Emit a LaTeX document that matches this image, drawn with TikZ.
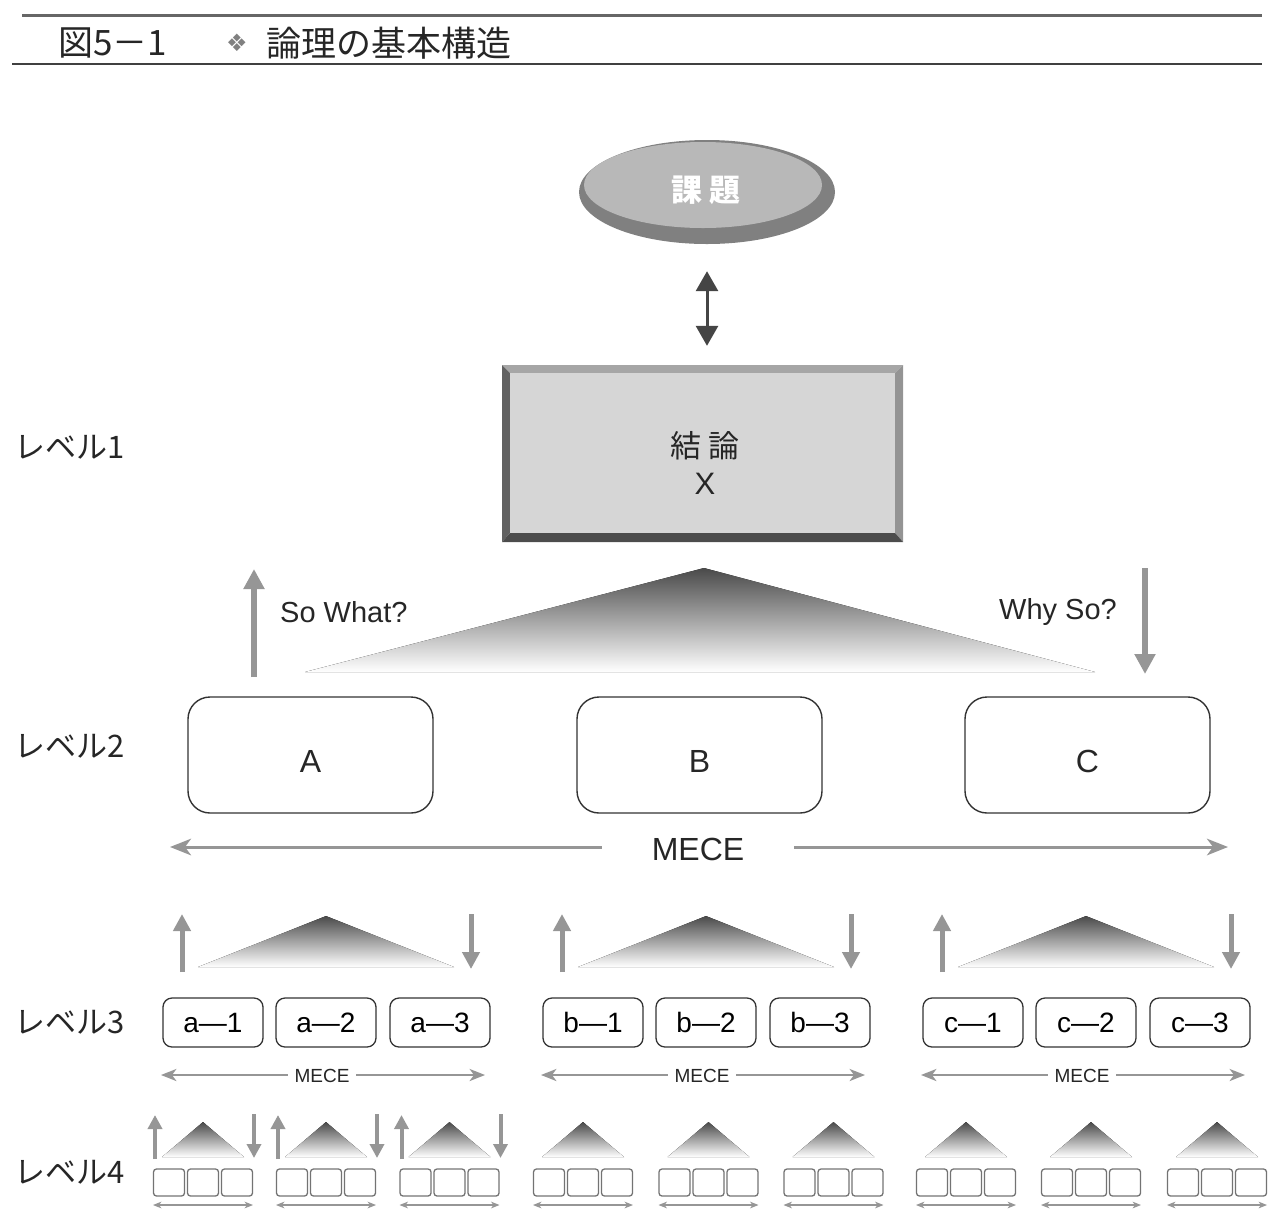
\documentclass[tikz,border=0pt]{standalone}
\usepackage{fontspec}
\setmainfont{Liberation Sans}
\newfontfamily\jp{Noto Sans CJK JP}
\newfontfamily\dvs{DejaVu Sans}
\usetikzlibrary{arrows.meta,shapes.geometric}
\definecolor{agray}{HTML}{969696}
\definecolor{tdark}{HTML}{454545}
\definecolor{tri}{HTML}{4a4a4a}
\newcommand\fsz[1]{\fontsize{#1}{#1}\selectfont}
\begin{document}
\begin{tikzpicture}[x=1pt,y=-1pt,
  lvl/.style={anchor=west,font=\jp\fsz{31},text=black!85,inner sep=0},
  bigbox/.style={draw=black!80,line width=1.4pt,rounded corners=22pt,minimum width=245pt,minimum height=116pt,inner sep=0,
     label={[font=\fsz{32},text=black!85,yshift=-6pt]center:#1}},
  midbox/.style={draw=black!80,line width=1.3pt,rounded corners=9pt,minimum width=100pt,minimum height=49pt,inner sep=0,font=\fsz{28}},
  tinybox/.style={draw=black!55,line width=1.3pt,rounded corners=3pt,minimum width=31pt,minimum height=27pt,inner sep=0},
  arrowL/.style={draw=agray,line width=6pt,-{Triangle[width=20pt,length=20pt]}},
  arrowM/.style={draw=agray,line width=5pt,-{Triangle[width=17pt,length=17pt]}},
  arrowS/.style={draw=agray,line width=4pt,-{Triangle[width=14pt,length=14pt]}},
  mece/.style={draw=agray,line width=#1,{Stealth[width=5.5*#1,length=7*#1,inset=2*#1]}-{Stealth[width=5.5*#1,length=7*#1,inset=2*#1]}},
  shade/.style={top color=tri,bottom color=white,draw=none}
]
\useasboundingbox (0,0) rectangle (1279,1227);

% header
\draw[line width=3pt,black!60] (22,15) -- (1262,15);
\draw[line width=1.5pt,black!75] (12,64) -- (1262,64);
\node[anchor=west,font=\jp\fsz{35},inner sep=0,text=black!85] (fig) at (58,43) {図5－1};
\node[font=\dvs\fsz{24},text=black!50,inner sep=0] (orn) at (237,43) {❖};
\node[anchor=west,font=\jp\fsz{35},inner sep=0,text=black!85] (ttl) at (266,43) {論理の基本構造};

% level labels
\node[lvl] (lv1) at (14,447) {レベル1};
\node[lvl] (lv2) at (14,746) {レベル2};
\node[lvl] (lv3) at (14,1022) {レベル3};
\node[lvl] (lv4) at (14,1172) {レベル4};

% issue ellipse
\node[ellipse,fill=black!50,minimum width=256pt,minimum height=104pt,inner sep=0] (kadai) at (707,192) {};
\fill[black!28] (703,185) ellipse [x radius=119pt,y radius=43pt];
\node[font=\jp\bfseries\fsz{31},text=white] (kadaitxt) at (706,190) {課 題};

% conclusion box
\node[minimum width=401pt,minimum height=177pt,inner sep=0] (ketsu) at (702.5,453.5) {};
\fill[black!35] (502,365) -- (903,365) -- (895,373) -- (510,373) -- cycle;
\fill[black!42] (903,365) -- (903,542) -- (895,533) -- (895,373) -- cycle;
\fill[black!70] (502,542) -- (903,542) -- (895,533) -- (510,533) -- cycle;
\fill[black!62] (502,365) -- (502,542) -- (510,533) -- (510,373) -- cycle;
\fill[black!16] (510,373) rectangle (895,533);
\node[font=\jp\fsz{31},text=black!85] (ketsutxt) at (705,446) {結 論};
\node[font=\fsz{31},text=black!85] (xtxt) at (705,484) {X};

\draw[line width=3pt,tdark,{Triangle[width=22pt,length=20pt]}-{Triangle[width=22pt,length=20pt]},shorten <=27pt,shorten >=19pt] (kadai.south) -- (kadai.south |- ketsu.north);

% big triangle
\fill[shade] (704,568) -- (305,672) -- (1095,672) -- cycle;
\coordinate (sw1) at (254,677);
\coordinate (sw2) at (254,569);
\draw[arrowL] (sw1) -- (sw2);
\coordinate (ws1) at (1145,568);
\coordinate (ws2) at (1145,674);
\draw[arrowL] (ws1) -- (ws2);
\node[anchor=west,font=\fsz{29},inner sep=0,text=black!85] (sowhat) at (280,612) {So What?};
\node[anchor=east,font=\fsz{29},inner sep=0,text=black!85] (whyso) at (1117,612) {Why So?};

% level 2 boxes
\node[bigbox=A] (A) at (310.5,755) {};
\node[bigbox=B] (B) at (699.5,755) {};
\node[bigbox=C] (C) at (1087.5,755) {};

\coordinate (m1) at (170,847);
\coordinate (m2) at (1228,847);
\draw[mece=3pt] (m1) -- (m2);
\node[fill=white,inner xsep=50pt,inner ysep=4pt,font=\fsz{32},text=black!85] (meceB) at (698,849) {MECE};

% level 3
\foreach \c/\n in {326/a,706/b,1086/c}{
  \fill[shade] (\c,916) -- (\c-128,967) -- (\c+128,967) -- cycle;
  \coordinate (\n u1) at (\c-144,972);
  \coordinate (\n u2) at (\c-144,914);
  \coordinate (\n d1) at (\c+145,914);
  \coordinate (\n d2) at (\c+145,969);
  \draw[arrowM] (\n u1) -- (\n u2);
  \draw[arrowM] (\n d1) -- (\n d2);
  \node[midbox] (\n 1) at (\c-113,1022.5) {\n—1};
  \node[midbox] (\n 2) at (\c,1022.5) {\n—2};
  \node[midbox] (\n 3) at (\c+114,1022.5) {\n—3};
  \coordinate (\n ml) at (\c-165,1075);
  \coordinate (\n mr) at (\c+159,1075);
  \draw[mece=2.2pt] (\n ml) -- (\n mr);
  \node[fill=white,inner xsep=7pt,inner ysep=2pt,font=\fsz{19},text=black!85] (\n mece) at (\c-4,1076) {MECE};
}

% level 4
\foreach \g [count=\i] in {203,326,449.5,583,708.5,833.5,966,1091,1217}{
  \fill[shade] (\g,1122) -- (\g-41,1157) -- (\g+41,1157) -- cycle;
  \node[tinybox] (q\i a) at (\g-34,1182.5) {};
  \node[tinybox] (q\i b) at (\g,1182.5) {};
  \node[tinybox] (q\i c) at (\g+34,1182.5) {};
  \coordinate (q\i l) at (\g-50,1205);
  \coordinate (q\i r) at (\g+50,1205);
  \draw[mece=1.2pt] (q\i l) -- (q\i r);
}
\foreach \g [count=\i] in {203,326,449.5}{
  \coordinate (p\i u1) at (\g-48,1159);
  \coordinate (p\i u2) at (\g-48,1115);
  \coordinate (p\i d1) at (\g+51,1114);
  \coordinate (p\i d2) at (\g+51,1158);
  \draw[arrowS] (p\i u1) -- (p\i u2);
  \draw[arrowS] (p\i d1) -- (p\i d2);
}
\end{tikzpicture}
\end{document}
